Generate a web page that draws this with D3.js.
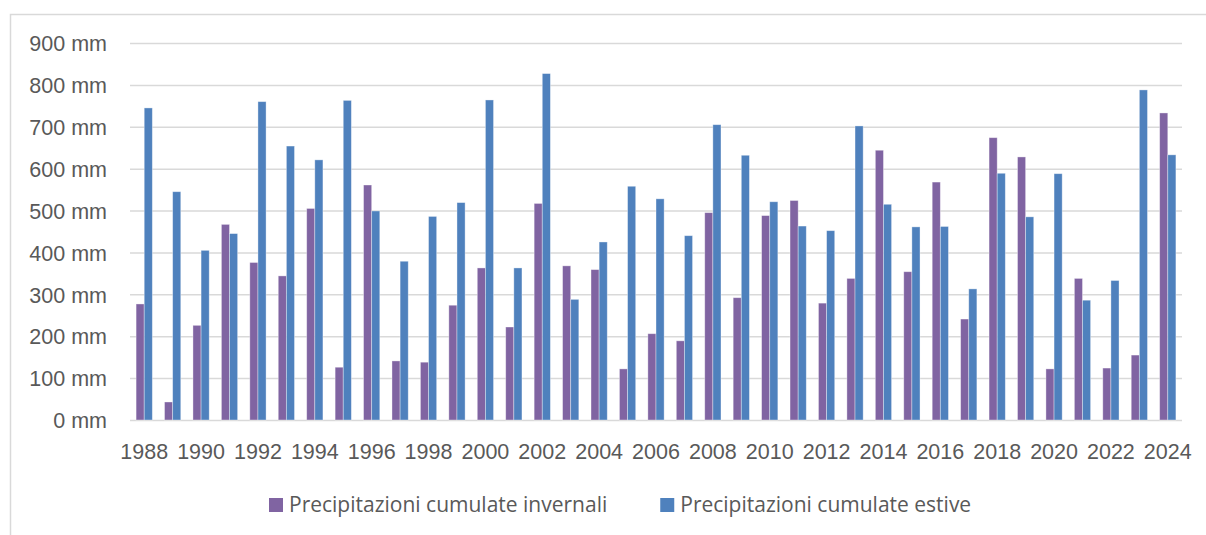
<!DOCTYPE html>
<html>
<head>
<meta charset="utf-8">
<script src="https://cdn.jsdelivr.net/npm/d3@7"></script>
<style>
  html, body { margin: 0; padding: 0; background: #fff; }
  svg { display: block; font-family: "Open Sans", sans-serif; }
</style>
</head>
<body>
<div id="app"></div>
<script>
// data (mm)
const years = d3.range(1988, 2025);
const winter = [277, 43, 226, 467, 376, 344, 505, 126, 561, 141,
  138, 274, 363, 222, 517, 368, 359, 122, 206, 189,
  495, 292, 488, 524, 279, 338, 644, 354, 568, 241,
  674, 628, 122, 338, 124, 155, 733];
const summer = [745, 545, 405, 445, 760, 654, 621, 763, 499, 379,
  486, 519, 764, 363, 827, 288, 425, 558, 528, 440,
  705, 632, 521, 463, 452, 702, 515, 461, 462, 313,
  589, 485, 588, 286, 333, 788, 633];
const seriesNames = ["Precipitazioni cumulate invernali", "Precipitazioni cumulate estive"];
const yTicks = [0, 100, 200, 300, 400, 500, 600, 700, 800, 900];
const xTicks = years.filter((y) => y % 2 === 0);

const w = 1206;
const h = 535;
const colors = ["#8064A2", "#4F81BD"];
const textColor = "#595959";
const gridColor = "#d9d9d9";

const svg = d3.select("#app").append("svg").attr("width", w).attr("height", h);

// chart border (cut off at right and bottom like the source)
svg.append("rect")
  .attr("x", 10.5).attr("y", 14.5)
  .attr("width", 1300).attr("height", 600)
  .attr("fill", "none")
  .attr("stroke", gridColor)
  .attr("stroke-width", 1.5);

const plotL = 130, plotR = 1182, plotT = 43, plotB = 420;

const scaleX = d3.scaleBand().domain(years).range([plotL, plotR]);
const scaleS = d3.scaleBand().domain([0, 1]).range([0, scaleX.bandwidth()]).paddingOuter(0.75);
const scaleY = d3.scaleLinear().domain([0, 900]).range([plotB, plotT]);

//y axis + gridlines
const yAxis = d3.axisLeft(scaleY)
  .tickValues(yTicks)
  .tickFormat((d) => d + " mm")
  .tickSize(-(plotR - plotL))
  .tickPadding(23);

const gy = svg.append("g")
  .attr("transform", "translate(" + plotL + ",0)")
  .call(yAxis);
gy.select(".domain").remove();
gy.selectAll("line").attr("stroke", gridColor).attr("stroke-width", 1.5);
gy.selectAll("text")
  .attr("fill", textColor)
  .style("font-size", "21.5px")
  .attr("dy", "0.36em");

//bars
const rows = years.map((y, i) => ({ year: y, vals: [winter[i], summer[i]] }));

const groups = svg.append("g")
  .selectAll("g")
  .data(rows)
  .enter()
  .append("g")
  .attr("transform", (d) => "translate(" + scaleX(d.year) + ",0)");

groups.selectAll("rect")
  .data((d) => d.vals.map((v, k) => ({ k, v })))
  .enter()
  .append("rect")
  .attr("x", (d) => scaleS(d.k))
  .attr("y", (d) => scaleY(d.v))
  .attr("width", scaleS.bandwidth())
  .attr("height", (d) => plotB - scaleY(d.v))
  .attr("fill", (d) => colors[d.k])
  .attr("stroke", "rgba(255,255,255,0.45)")
  .attr("stroke-width", 0.8);

//x axis
const xAxis = d3.axisBottom(scaleX)
  .tickValues(xTicks)
  .tickSize(0)
  .tickPadding(24);

const gx = svg.append("g")
  .attr("transform", "translate(0," + plotB + ")")
  .call(xAxis);
gx.select(".domain").remove();
gx.selectAll("text")
  .attr("fill", textColor)
  .style("font-size", "21.5px");

//legend
const legend = svg.append("g").attr("transform", "translate(269,0)");
let lx = 0;
seriesNames.forEach((name, k) => {
  legend.append("rect")
    .attr("x", lx).attr("y", 498)
    .attr("width", 14).attr("height", 14)
    .attr("fill", colors[k]);
  const t = legend.append("text")
    .attr("x", lx + 20).attr("y", 512)
    .attr("fill", textColor)
    .style("font-size", "21px")
    .text(name);
  lx += 20 + t.node().getComputedTextLength() + 53;
});
</script>
</body>
</html>
